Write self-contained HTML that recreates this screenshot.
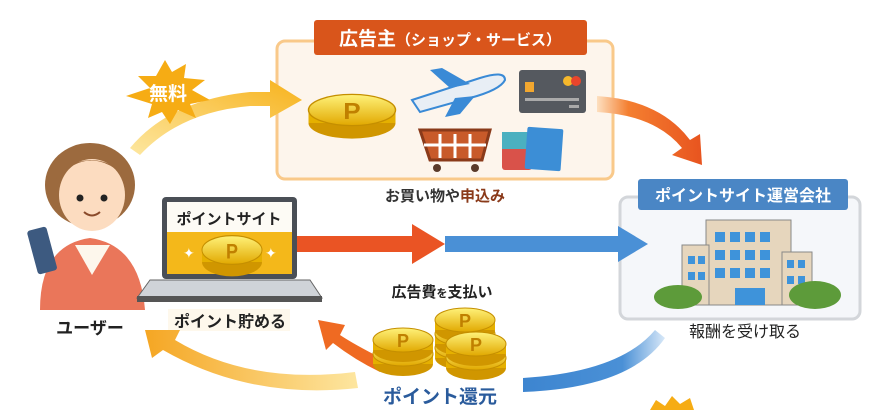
<!DOCTYPE html>
<html><head><meta charset="utf-8"><style>
html,body{margin:0;padding:0;background:#fff;}
svg{display:block;font-family:"Liberation Sans","Noto Sans CJK JP",sans-serif;}
</style></head><body>
<svg width="882" height="410" viewBox="0 0 882 410" xmlns="http://www.w3.org/2000/svg">
<defs>
<linearGradient id="coin" x1="0" y1="0" x2="0" y2="1"><stop offset="0" stop-color="#fff27a"/><stop offset="1" stop-color="#e1a800"/></linearGradient>
<linearGradient id="yel" x1="0" y1="1" x2="1" y2="0"><stop offset="0" stop-color="#fde7a0"/><stop offset="1" stop-color="#f7b21c"/></linearGradient>
<linearGradient id="yel2" x1="1" y1="0" x2="0" y2="0"><stop offset="0" stop-color="#fde6a0"/><stop offset="1" stop-color="#f5a623"/></linearGradient>
<linearGradient id="or" x1="0" y1="0" x2="1" y2="0"><stop offset="0" stop-color="#fde0c0"/><stop offset="0.3" stop-color="#f47f30"/><stop offset="1" stop-color="#e8541f"/></linearGradient>
<linearGradient id="bl" x1="1" y1="0" x2="0" y2="0"><stop offset="0" stop-color="#d8e8f8"/><stop offset="0.3" stop-color="#4a90d6"/><stop offset="1" stop-color="#3d85d0"/></linearGradient>
<g id="c"><ellipse cx="0" cy="10" rx="30" ry="12" fill="#d09600"/><rect x="-30" y="0" width="60" height="10" fill="#e5b000"/><ellipse cx="0" cy="0" rx="30" ry="12" fill="url(#coin)" stroke="#c58f00"/><text x="0" y="7" font-size="18" font-weight="bold" fill="#c08000" text-anchor="middle">P</text></g>
</defs>

<rect x="277" y="41" width="336" height="138" rx="8" fill="#fdf5ec" stroke="#f9c98a" stroke-width="3"/>
<rect x="314" y="20" width="273" height="35" rx="3" fill="#d9551b"/>
<text x="450" y="45" font-size="19" font-weight="bold" fill="#fff" text-anchor="middle">広告主<tspan font-size="15">（ショップ・サービス）</tspan></text>
<g transform="translate(352,110) scale(1.45,1.3)"><use href="#c"/></g>
<path d="M412 100 L480 78 Q505 70 505 80 Q500 90 470 98 L420 112 Z" fill="#e8eef5" stroke="#3a8ad6" stroke-width="2"/>
<path d="M450 88 L430 70 L442 68 L470 84 Z M455 98 L445 117 L460 114 L475 96 Z" fill="#3a8ad6"/>
<rect x="519" y="70" width="67" height="43" rx="3" fill="#55595f"/>
<rect x="525" y="82" width="9" height="10" fill="#f2a72f"/>
<circle cx="568" cy="81" r="5" fill="#f6b82b"/><circle cx="576" cy="81" r="5" fill="#e8452c"/>
<rect x="525" y="98" width="54" height="3" fill="#aaa"/><rect x="569" y="105" width="10" height="3" fill="#aaa"/>
<path d="M420 130 L490 130 L482 160 L430 160 Z" fill="#c85a2a" stroke="#8a3a1a" stroke-width="3"/>
<path d="M440 134v24M455 134v24M470 134v24M424 145h62" stroke="#fff" stroke-width="3"/>
<circle cx="437" cy="168" r="4" fill="#5a3a2a"/><circle cx="475" cy="168" r="4" fill="#5a3a2a"/>
<rect x="502" y="132" width="30" height="38" rx="3" fill="#d9524a"/><rect x="502" y="132" width="30" height="17" fill="#4bb0c0"/>
<rect x="526" y="128" width="36" height="42" rx="2" fill="#3c8ed6" transform="rotate(4 544 149)"/>
<text x="445" y="201" font-size="15" font-weight="bold" fill="#333" text-anchor="middle">お買い物や<tspan fill="#8a3a1a">申込み</tspan></text>

<path d="M130 148 Q170 100 250 92 L270 92 L270 80 L302 100 L270 118 L270 106 L250 106 Q180 112 140 155 Z" fill="url(#yel)"/>
<polygon points="165,60 172,72 186,64 184,78 205,80 192,90 210,100 190,104 196,118 178,110 170,124 162,112 148,118 152,104 126,96 150,88 138,76 156,76" fill="#f6ac14"/>
<text x="168" y="100" font-size="19" font-weight="bold" fill="#fff" text-anchor="middle">無料</text>

<path d="M597 96 Q660 100 690 140 L700 134 L702 165 L672 155 L682 148 Q655 115 597 112 Z" fill="url(#or)"/>

<rect x="620" y="197" width="240" height="122" rx="8" fill="#f5f7fa" stroke="#d3d6da" stroke-width="3"/>
<rect x="638" y="179" width="210" height="31" rx="3" fill="#4a86c5"/>
<text x="743" y="201" font-size="16" font-weight="bold" fill="#fff" text-anchor="middle">ポイントサイト運営会社</text>
<rect x="706" y="220" width="85" height="85" fill="#e6d6bd" stroke="#888"/>
<rect x="682" y="245" width="27" height="60" fill="#e6d6bd" stroke="#888"/>
<rect x="782" y="252" width="30" height="53" fill="#e6d6bd" stroke="#888"/>
<g fill="#3e93da">
<rect x="715" y="232" width="10" height="10"/><rect x="730" y="232" width="10" height="10"/><rect x="745" y="232" width="10" height="10"/><rect x="760" y="232" width="10" height="10"/>
<rect x="715" y="250" width="10" height="10"/><rect x="730" y="250" width="10" height="10"/><rect x="745" y="250" width="10" height="10"/><rect x="760" y="250" width="10" height="10"/>
<rect x="715" y="268" width="10" height="10"/><rect x="730" y="268" width="10" height="10"/><rect x="745" y="268" width="10" height="10"/><rect x="760" y="268" width="10" height="10"/>
<rect x="688" y="256" width="7" height="8"/><rect x="698" y="256" width="7" height="8"/><rect x="688" y="272" width="7" height="8"/><rect x="698" y="272" width="7" height="8"/>
<rect x="787" y="260" width="7" height="8"/><rect x="798" y="260" width="7" height="8"/><rect x="787" y="276" width="7" height="8"/><rect x="798" y="276" width="7" height="8"/>
<rect x="735" y="288" width="30" height="17"/></g>
<ellipse cx="678" cy="297" rx="24" ry="12" fill="#5d9b3a"/><ellipse cx="815" cy="295" rx="26" ry="14" fill="#5d9b3a"/>
<text x="745" y="337" font-size="16" fill="#222" text-anchor="middle">報酬を受け取る</text>

<ellipse cx="90" cy="185" rx="45" ry="42" fill="#9c6a3e"/>
<ellipse cx="92" cy="195" rx="33" ry="36" fill="#fcdcc0"/>
<path d="M55 180 Q92 140 130 182 Q115 160 90 160 Q65 162 55 180Z" fill="#9c6a3e"/>
<circle cx="80" cy="198" r="3.5" fill="#222"/><circle cx="104" cy="198" r="3.5" fill="#222"/>
<path d="M84 212 Q92 219 100 212" stroke="#8a4a2a" stroke-width="2" fill="none"/>
<path d="M40 310 Q40 245 90 238 Q140 245 145 310 Z" fill="#ea765a"/>
<path d="M75 245 L92 275 L110 245 Z" fill="#fdf7ec"/>
<rect x="32" y="228" width="20" height="45" rx="3" fill="#3d5a80" transform="rotate(-15 42 250)"/>
<text x="90" y="334" font-size="17" font-weight="bold" fill="#222" text-anchor="middle">ユーザー</text>

<rect x="162" y="197" width="135" height="82" rx="4" fill="#4a4f56"/>
<rect x="167" y="202" width="125" height="30" fill="#fdfbf5"/>
<text x="229" y="224" font-size="15" font-weight="bold" fill="#222" text-anchor="middle">ポイントサイト</text>
<rect x="167" y="232" width="125" height="42" fill="#f4b81a"/>
<g transform="translate(232,250) scale(1,1.2)"><use href="#c"/></g>
<text x="183" y="258" font-size="14" fill="#fff">✦</text><text x="265" y="258" font-size="14" fill="#fff">✦</text>
<path d="M150 280 L310 280 L322 298 L137 298 Z" fill="#cfd3d8" stroke="#666"/>
<rect x="137" y="296" width="185" height="6" fill="#555"/>
<rect x="168" y="309" width="122" height="22" fill="#fef8ec"/>
<text x="230" y="327" font-size="16" font-weight="bold" fill="#222" text-anchor="middle">ポイント貯める</text>

<rect x="297" y="236" width="120" height="16" fill="#ea5424"/>
<polygon points="412,224 445,244 412,264" fill="#ea5424"/>
<rect x="445" y="236" width="180" height="16" fill="#4a90d6"/>
<polygon points="618,226 648,244 618,262" fill="#4a90d6"/>

<text x="442" y="297" font-size="15" font-weight="bold" fill="#222" text-anchor="middle">広告費<tspan font-size="11">を</tspan>支払い</text>

<path d="M655 330 Q620 372 523 378 L523 392 Q630 388 665 338 Z" fill="url(#bl)"/>
<path d="M385 360 Q355 345 340 335 L345 325 L318 320 L326 350 L333 343 Q355 360 380 372 Z" fill="#ef6a22"/>
<path d="M355 372 Q250 385 175 340 L180 330 L145 330 L152 358 L163 350 Q250 400 358 388 Z" fill="url(#yel2)"/>

<g transform="translate(465,348)"><use href="#c"/></g><g transform="translate(465,334)"><use href="#c"/></g><g transform="translate(465,320)"><use href="#c"/></g>
<g transform="translate(403,354)"><use href="#c"/></g><g transform="translate(403,340)"><use href="#c"/></g>
<g transform="translate(476,358)"><use href="#c"/></g><g transform="translate(476,344)"><use href="#c"/></g>
<text x="440" y="403" font-size="19" font-weight="bold" fill="#2a5b9c" text-anchor="middle">ポイント還元</text>

<polygon points="650,410 656,400 665,406 672,396 680,404 690,398 694,410" fill="#f6ac14"/>
</svg>
</body></html>
